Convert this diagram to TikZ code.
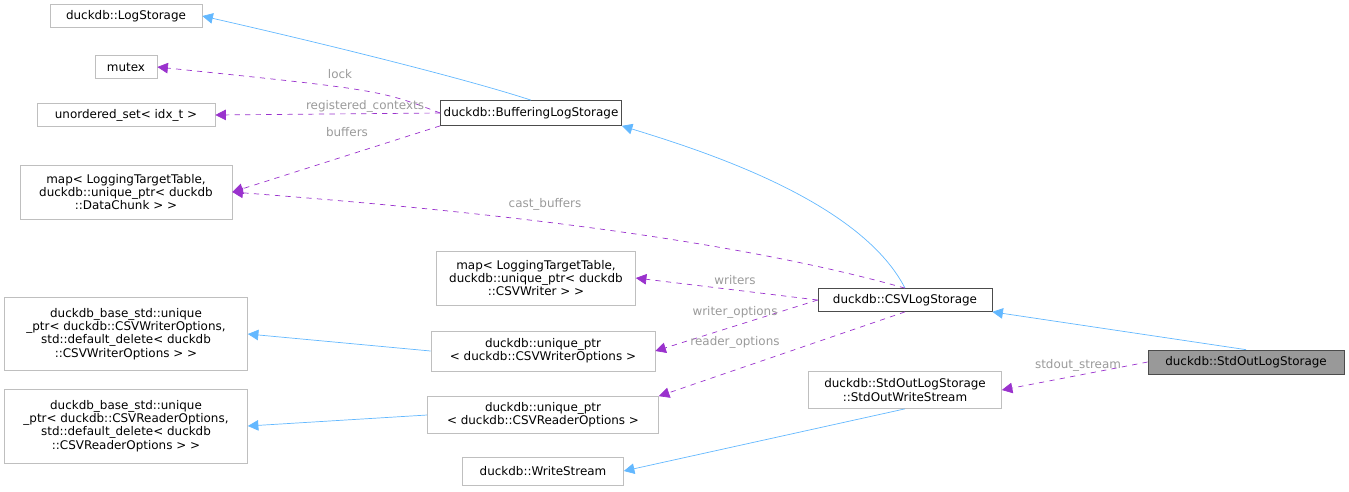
\documentclass[tikz,border=0pt]{standalone}
\usepackage{fontspec}
\setmainfont{DejaVu Sans}
\usetikzlibrary{arrows.meta}
\definecolor{edgeblue}{HTML}{63B8FF}
\definecolor{edgepurple}{HTML}{9A32CD}
\definecolor{boxgray}{HTML}{BFBFBF}
\definecolor{lblgray}{HTML}{9A9A9A}
\tikzset{
  box/.style={draw=boxgray, fill=white, inner sep=1pt, align=center, font=\fontsize{6.8}{7.6}\selectfont},
  mainbox/.style={box, draw=black!70},
  inherit/.style={draw=edgeblue, -{Triangle[open, fill=edgeblue, length=6pt, width=6pt]}},
  member/.style={draw=edgepurple, dashed, -{Triangle[open, fill=edgepurple, length=6pt, width=6pt]}},
  lbl/.style={text=lblgray, font=\fontsize{6.8}{7.6}\selectfont, inner sep=0pt}
}
\begin{document}
\begin{tikzpicture}[x=0.02cm, y=-0.02cm]
    \useasboundingbox (0,0) rectangle (1349,491);
    % class boxes
    \node[box, minimum width=3.04cm, minimum height=0.46cm] (logstorage) at (126,16) {duckdb::LogStorage};
    \node[box, minimum width=1.24cm, minimum height=0.46cm] (mutex) at (126,67) {mutex};
    \node[box, minimum width=3.56cm, minimum height=0.46cm] (uset) at (126,115) {unordered\_set< idx\_t >};
    \node[box, minimum width=4.24cm, minimum height=1.08cm] (chunkmap) at (126,192) {map< LoggingTargetTable,\\ duckdb::unique\_ptr< duckdb\\ ::DataChunk > >};
    \node[mainbox, minimum width=3.62cm, minimum height=0.5cm] (buffering) at (531,113) {duckdb::BufferingLogStorage};
    \node[box, minimum width=3.98cm, minimum height=1.08cm] (writermap) at (536,278) {map< LoggingTargetTable,\\ duckdb::unique\_ptr< duckdb\\ ::CSVWriter > >};
    \node[mainbox, minimum width=3.48cm, minimum height=0.46cm] (csv) at (905,300) {duckdb::CSVLogStorage};
    \node[draw=black!70, fill=black!40, inner sep=1pt, font=\fontsize{6.8}{7.6}\selectfont, minimum width=3.92cm, minimum height=0.48cm] (stdout) at (1246,362) {duckdb::StdOutLogStorage};
    \node[box, minimum width=4.86cm, minimum height=1.46cm] (wbase) at (126,334) {duckdb\_base\_std::unique\\ \_ptr< duckdb::CSVWriterOptions,\\ std::default\_delete< duckdb\\ ::CSVWriterOptions > >};
    \node[box, minimum width=4.48cm, minimum height=0.8cm] (wptr) at (543,351) {duckdb::unique\_ptr\\ < duckdb::CSVWriterOptions >};
    \node[box, minimum width=4.86cm, minimum height=1.48cm] (rbase) at (126,426) {duckdb\_base\_std::unique\\ \_ptr< duckdb::CSVReaderOptions,\\ std::default\_delete< duckdb\\ ::CSVReaderOptions > >};
    \node[box, minimum width=4.62cm, minimum height=0.74cm] (rptr) at (543,415) {duckdb::unique\_ptr\\ < duckdb::CSVReaderOptions >};
    \node[box, minimum width=3.86cm, minimum height=0.74cm] (stream) at (905,390) {duckdb::StdOutLogStorage\\ ::StdOutWriteStream};
    \node[box, minimum width=3.22cm, minimum height=0.56cm] (wstream) at (543,471) {duckdb::WriteStream};
    % inheritance
    \draw[inherit] (buffering.north) .. controls (470,80) and (330,45) .. (logstorage.east);
    \draw[inherit] (csv.north) .. controls (860,200) and (700,150) .. (buffering.south east);
    \draw[inherit] (stdout.north) -- (csv.south east);
    \draw[inherit] (wptr.west) -- (wbase.east);
    \draw[inherit] (rptr.west) -- (rbase.east);
    \draw[inherit] (stream.south) -- (wstream.east);
    % members
    \draw[member] (buffering.west) .. controls (380,90) .. (mutex.east);
    \draw[member] (buffering.west) -- (uset.east);
    \draw[member] (buffering.south west) -- (chunkmap.east);
    \draw[member] (csv.north) .. controls (700,230) and (400,205) .. (chunkmap.east);
    \draw[member] (csv.west) -- (writermap.east);
    \draw[member] (csv.west) -- (wptr.east);
    \draw[member] (csv.south) -- (rptr.north east);
    \draw[member] (stdout.west) -- (stream.east);
    % labels
    \node[lbl] (lock) at (340,74) {lock};
    \node[lbl] (regctx) at (365,106) {registered\_contexts};
    \node[lbl] (bufs) at (347,132) {buffers};
    \node[lbl] (castbufs) at (545,204) {cast\_buffers};
    \node[lbl] (writers) at (735,280) {writers};
    \node[lbl] (wopts) at (735,312) {writer\_options};
    \node[lbl] (ropts) at (735,342) {reader\_options};
    \node[lbl] (sstream) at (1078,365) {stdout\_stream};
\end{tikzpicture}
\end{document}
